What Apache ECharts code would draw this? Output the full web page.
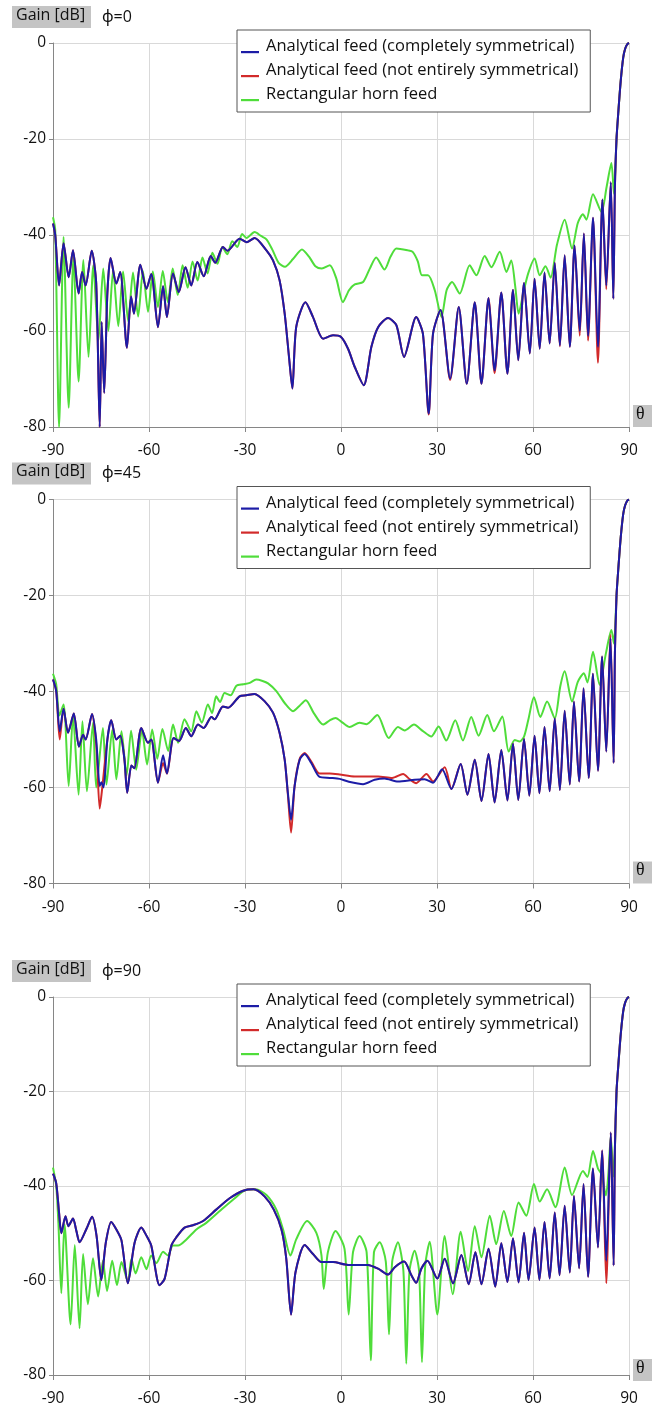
<!DOCTYPE html>
<html>
<head>
<meta charset="utf-8">
<script src="https://cdn.jsdelivr.net/npm/echarts@6/dist/echarts.min.js"></script>
<style>
html,body{margin:0;padding:0;background:#fff;}
#chart{width:657px;height:1407px;}
</style>
</head>
<body>
<div id="chart"></div>
<script>
// ---------- data ----------
const seriesNames = ['Analytical feed (completely symmetrical)', 'Analytical feed (not entirely symmetrical)', 'Rectangular horn feed'];
const phiLabels = ['\u03D5=0', '\u03D5=45', '\u03D5=90'];
const xTicks = [-90, -60, -30, 0, 30, 60, 90];
const yTicks = [-80, -60, -40, -20, 0];

// phi = 0
const p1Blue = [[-90,-37.6],[-89.3,-40],[-88.1,-50.5],[-86.7,-41.7],[-85.1,-48.8],[-83.75,-43.2],[-82,-52.2],[-80.9,-47.7],[-79.8,-50.5],[-77.9,-43.3],[-76.5,-50],[-75.4,-80],[-74.8,-58.1],[-74,-72.9],[-73,-52],[-72,-44.8],[-70.2,-50.1],[-69,-47.7],[-66.9,-63.5],[-65.6,-52.8],[-64.7,-56.4],[-62.7,-46.2],[-60.8,-51.2],[-59.3,-48.1],[-57.2,-59.2],[-55.6,-50.7],[-54.4,-57.1],[-52.5,-48],[-50.7,-51.9],[-48.6,-46.7],[-46.8,-50.5],[-44.9,-45.6],[-42.9,-48.6],[-40.7,-44.4],[-39.3,-45.8],[-36.9,-42.5],[-35.5,-43.3],[-31.7,-40.8],[-29.4,-41.5],[-27,-40.6],[-23.3,-43.2],[-21.25,-45.3],[-19.2,-49.4],[-17.6,-56.4],[-16.25,-65.4],[-15.2,-72],[-14,-59.2],[-11.1,-54],[-8.75,-57.1],[-5.6,-61.6],[-2.5,-60.9],[0,-61.25],[2.2,-63.7],[4.3,-67.5],[7.1,-71.3],[9.5,-63.3],[11.6,-59.2],[14.7,-57.3],[17.3,-58.8],[19.7,-65.4],[23.5,-57.1],[25.6,-60.6],[27.4,-77.2],[28.75,-60.6],[31.1,-55.6],[34.1,-69.9],[36.8,-55],[39.3,-71],[41.8,-54],[43.9,-71],[46.1,-53.1],[48,-68.2],[50.1,-52],[52,-68.9],[53.75,-51.4],[55.4,-66.1],[57.2,-50],[59,-64.7],[60.5,-49.1],[62.1,-63.7],[63.6,-47.8],[65.2,-62.6],[66.8,-45.8],[68.4,-63],[69.9,-44.2],[71.5,-63.3],[73,-42.2],[74.6,-60],[75.9,-39.7],[77.2,-61],[78.75,-36.4],[80.3,-63.3],[81.7,-32.6],[82.9,-50.5],[84.3,-29],[85.1,-53.3],[85.6,-30],[86.1,-20],[86.6,-15],[87.4,-8],[88.2,-3],[88.8,-1.2],[89.5,-0.2],[90,0]];
const p1Red = [[-90,-37.6],[-89.3,-40],[-88.1,-50.5],[-86.7,-41.7],[-85.1,-48.8],[-83.75,-43.2],[-82,-52.2],[-80.9,-47.7],[-79.8,-50.5],[-77.9,-43.3],[-76.5,-50],[-75.4,-80],[-74.8,-58.1],[-74,-72.9],[-73,-52],[-72,-44.8],[-70.2,-50.1],[-69,-47.7],[-66.9,-63.5],[-65.6,-52.8],[-64.7,-56.4],[-62.7,-46.2],[-60.8,-51.2],[-59.3,-48.1],[-57.2,-59.2],[-55.6,-50.7],[-54.4,-57.1],[-52.5,-48],[-50.7,-51.9],[-48.6,-46.7],[-46.8,-50.5],[-44.9,-45.6],[-42.9,-48.6],[-40.7,-44.4],[-39.3,-45.8],[-36.9,-42.5],[-35.5,-43.3],[-31.7,-40.8],[-29.4,-41.5],[-27,-40.6],[-23.3,-43.2],[-21.25,-45.3],[-19.2,-49.4],[-17.6,-56.4],[-16.25,-65.4],[-15.2,-72],[-14,-59.2],[-11.1,-54],[-8.75,-57.1],[-5.6,-61.6],[-2.5,-60.9],[0,-61.25],[2.2,-63.7],[4.3,-67.5],[7.1,-71.3],[9.5,-63.3],[11.6,-59.2],[14.7,-57.3],[17.3,-58.8],[19.7,-65.4],[23.5,-57.1],[25.6,-60.6],[27.4,-77.4],[28.75,-60.6],[31.1,-55.6],[34.1,-70.2],[36.8,-55],[39.3,-71],[41.8,-54],[43.9,-71],[46.1,-53.1],[48,-68.8],[50.1,-52],[52,-68.9],[53.75,-51.4],[55.4,-66.1],[57.2,-50],[59,-64.7],[60.5,-49.1],[62.1,-63.7],[63.6,-47.8],[65.2,-62.6],[66.8,-45.8],[68.4,-63.2],[69.9,-44.2],[71.5,-63.3],[73,-42.2],[74.6,-61],[75.9,-39.7],[77.2,-62],[78.75,-36.4],[80.3,-66.6],[81.7,-32.6],[82.9,-51.3],[84.3,-29],[85.1,-53.3],[85.6,-30],[86.1,-20],[86.6,-15],[87.4,-8],[88.2,-3],[88.8,-1.2],[89.5,-0.2],[90,0]];
const p1Green = [[-90,-36.3],[-89.3,-39],[-88.1,-80],[-86.7,-40.4],[-85.1,-76],[-83.6,-44.5],[-82,-70.5],[-80.5,-45.2],[-78.9,-65.4],[-77.4,-46.3],[-75.8,-62],[-74.3,-47],[-72.7,-60],[-71.2,-47.3],[-69.6,-59],[-68.1,-47.6],[-66.5,-58],[-65,-47.8],[-63.4,-57],[-61.9,-47.5],[-60.3,-56],[-58.8,-47.6],[-57.2,-55],[-55.7,-47.5],[-54.1,-54],[-52.6,-47],[-51,-52.5],[-49.5,-46.3],[-47.9,-51],[-46.4,-45.5],[-44.8,-49.5],[-43.3,-44.7],[-41.7,-48],[-40.2,-43.7],[-38.6,-46],[-37.1,-42.5],[-35.5,-44],[-34,-41.3],[-32.4,-42.5],[-30.9,-39.8],[-29.5,-40.6],[-27,-39.4],[-25,-40.2],[-23.3,-40.9],[-21.5,-43],[-19.5,-45.8],[-17.5,-46.6],[-15,-45],[-12.2,-43],[-10,-44.5],[-8,-46.5],[-6,-47],[-3.5,-46.3],[-1.5,-49],[0.6,-54],[2.5,-51.5],[4.3,-50.3],[6.9,-49.8],[9,-47],[11,-44.7],[13.6,-47.2],[15.5,-44.5],[17.3,-42.8],[20.9,-43.2],[22.4,-43.5],[24,-45.5],[25.3,-48.4],[27.2,-48.4],[29.3,-51.5],[31.4,-57.1],[33,-51.5],[34.7,-49.8],[37.1,-52.2],[40.2,-46.3],[42.3,-48.4],[44.9,-44.4],[47,-46.7],[49.6,-43.5],[51.7,-47.7],[53.2,-45.3],[54.5,-51],[55.5,-56.4],[57,-52],[58.5,-48],[60.5,-44.9],[62.1,-48.4],[63.9,-46.5],[65.5,-48.9],[67.5,-42],[69.9,-36.8],[72.2,-42.8],[74,-37.5],[75.6,-35.7],[76.7,-36.8],[78.75,-31.5],[81.4,-35.2],[83,-30],[84.5,-25],[85.3,-31.4],[86.1,-20],[86.6,-15],[87.4,-8],[88.2,-3],[88.8,-1.2],[89.5,-0.2],[90,0]];

// phi = 45
const p2Blue = [[-90,-37.5],[-89,-39.9],[-87.9,-48.3],[-86.7,-43.6],[-85.3,-48.6],[-83.5,-44.6],[-81.9,-51.5],[-80.6,-49],[-79.8,-50],[-77.8,-44.7],[-76.5,-50],[-75.4,-59.7],[-74.9,-58.9],[-74.2,-60],[-73,-50],[-71.8,-46],[-70.2,-50],[-69,-49.2],[-67.7,-54],[-66.8,-61.1],[-65.5,-55.4],[-64.6,-56],[-62.4,-47.6],[-60.3,-50.7],[-59.3,-50],[-57.2,-59],[-55.6,-53.3],[-54.4,-57.1],[-52.3,-49.7],[-50.6,-50.3],[-48.5,-47.6],[-46.8,-49.3],[-44.7,-46.9],[-42.9,-47.6],[-40.5,-45.3],[-39.5,-45.8],[-36.9,-43.1],[-35.3,-43.4],[-31.7,-41],[-29.6,-40.8],[-27,-40.5],[-23.9,-42],[-21.25,-44.4],[-19.2,-48.6],[-17.6,-54.2],[-16.6,-61.1],[-15.6,-66.7],[-14.5,-59.7],[-12.9,-54.2],[-11.35,-53],[-9.3,-54.9],[-6.7,-57.8],[-3.5,-58],[-0.4,-58.2],[2.2,-58.75],[6.9,-59.3],[10.5,-58.4],[13.6,-58.1],[17.8,-58.75],[23,-58.4],[26.1,-58.3],[28.75,-59],[31.6,-56.2],[34.5,-60.3],[37.4,-55.1],[39.5,-61.5],[41.8,-54.2],[43.9,-62.8],[46.1,-53],[48,-63.1],[50.1,-52.2],[52,-62.7],[53.75,-50.9],[55.4,-62.6],[57.2,-49.9],[58.85,-61.7],[60.5,-49.2],[62,-61.2],[63.6,-47.4],[65.2,-60.8],[66.8,-45.6],[68.4,-60.5],[69.9,-44],[71.5,-59.4],[72.8,-42.1],[74.4,-58.75],[75.8,-39.3],[77.4,-58],[78.75,-36.3],[80.3,-56.5],[81.6,-32.7],[82.9,-52.5],[84.2,-28.9],[85.2,-54.9],[85.6,-32],[86.1,-20],[86.6,-15],[87.4,-8],[88.2,-3],[88.8,-1.2],[89.5,-0.2],[90,0]];
const p2Red = [[-90,-37.5],[-89,-39.9],[-87.9,-50],[-86.7,-43.6],[-85.3,-48.6],[-83.5,-44.6],[-81.9,-51.5],[-80.6,-49],[-79.8,-50],[-77.8,-44.7],[-76.5,-51],[-75.4,-64.4],[-74.6,-60],[-73,-50],[-71.8,-46],[-70.2,-50],[-69,-49.2],[-67.7,-54],[-66.8,-61.1],[-65.5,-55.4],[-64.6,-56],[-62.4,-47.6],[-60.3,-50.7],[-59.3,-50],[-57.2,-59],[-55.6,-54.9],[-54.4,-57.1],[-52.3,-49.7],[-50.6,-50.3],[-48.5,-47.6],[-46.8,-49.3],[-44.7,-46.9],[-42.9,-47.6],[-40.5,-45.3],[-39.5,-45.8],[-36.9,-43.1],[-35.3,-43.4],[-31.7,-41],[-29.6,-40.8],[-27,-40.5],[-23.9,-42],[-21.25,-44.4],[-19.2,-48.6],[-17.6,-54.2],[-16.6,-61.5],[-15.6,-69.4],[-14.5,-59.7],[-12.9,-54],[-11.35,-52.8],[-9.3,-54.6],[-6.7,-57.1],[-3.5,-57.1],[-0.4,-57.3],[4.3,-57.7],[11.6,-57.7],[16,-58],[19.4,-57.2],[21.5,-58.3],[23.5,-59.1],[26.7,-57.2],[28.75,-58.75],[32.4,-55.8],[34.5,-60.3],[37.4,-55.1],[39.5,-61.5],[41.8,-54.2],[43.9,-62.8],[46.1,-53],[48,-63.1],[50.1,-52.2],[52,-62.7],[53.75,-50.9],[55.4,-62.6],[57.2,-49.9],[58.85,-61.7],[60.5,-49.2],[62,-61.2],[63.6,-47.4],[65.2,-60.8],[66.8,-45.6],[68.4,-60.5],[69.9,-44],[71.5,-59.4],[72.8,-42.1],[74.4,-58.75],[75.8,-39.3],[77.4,-58],[78.75,-36.3],[80.3,-56.5],[81.6,-32.7],[82.9,-52.5],[84.2,-28.2],[85.2,-54.9],[85.6,-32],[86.1,-20],[86.6,-15],[87.4,-8],[88.2,-3],[88.8,-1.2],[89.5,-0.2],[90,0]];
const p2Green = [[-90,-36.3],[-89,-38.5],[-88,-45],[-86.7,-42.7],[-85.1,-59.7],[-83.75,-45.1],[-82,-61.5],[-80.8,-46.2],[-79.4,-60.8],[-77.5,-46.5],[-76.5,-60],[-74.4,-47.6],[-73.3,-59.4],[-71.5,-48],[-70.2,-58.3],[-68.6,-48.3],[-67,-57.5],[-65.6,-48.2],[-64,-56.3],[-62.2,-48],[-60.6,-55.2],[-59,-47.9],[-57.4,-54],[-55.8,-47.8],[-54,-52.4],[-52.5,-46.9],[-50.9,-50.7],[-48.9,-45.8],[-46.8,-48.3],[-45.2,-44.1],[-43.5,-46.5],[-41.6,-42.7],[-40.3,-44.5],[-39,-41],[-37.8,-42.2],[-36.4,-40.3],[-34.5,-40.8],[-32.7,-38.8],[-30.6,-38.5],[-28.5,-38.2],[-26.5,-37.5],[-24.5,-37.8],[-22.8,-38.3],[-20.2,-39.9],[-17.5,-42.5],[-15,-44.1],[-13,-43],[-11,-41.8],[-8.5,-44.5],[-5.6,-46.9],[-3.5,-46],[-1.7,-45.5],[0.5,-46.5],[2.7,-47.4],[5.8,-46.5],[8,-46.8],[11.35,-44.9],[14.9,-49.7],[17.8,-47.4],[19.9,-48.1],[22.8,-46.9],[25.5,-48.2],[28.2,-49.4],[30.5,-47.3],[32.9,-50.2],[35.7,-46],[38.1,-50.2],[40.7,-45.3],[43,-49.2],[45.7,-44.9],[47.8,-48.3],[50.4,-45.2],[52.4,-52.5],[54.3,-50.1],[55.8,-50.4],[57.2,-49.4],[58.5,-46],[60.3,-41.2],[62.3,-45.3],[64.4,-42.1],[66.8,-45.6],[68.5,-39],[69.9,-35.8],[72.2,-42.1],[74,-38],[75.9,-36.2],[77,-38.1],[78.75,-31.7],[80.8,-38.6],[82.8,-32],[84.5,-27.2],[85.3,-30],[86.1,-20],[86.6,-15],[87.4,-8],[88.2,-3],[88.8,-1.2],[89.5,-0.2],[90,0]];

// phi = 90
const p3Blue = [[-90,-37.4],[-89,-39.4],[-88.1,-45.7],[-87.4,-50],[-86.1,-46.4],[-85.2,-48.5],[-83.75,-46.9],[-82.7,-49.5],[-81.7,-51.9],[-79.5,-49],[-77.8,-46.5],[-76.4,-50.5],[-74.9,-59.9],[-73.5,-52],[-71.8,-47.6],[-70.2,-49.2],[-68.6,-51.5],[-66.6,-60.6],[-64.5,-52],[-62.4,-48.8],[-60.8,-50.5],[-59.3,-52.6],[-56.7,-61],[-55.1,-59.6],[-53,-52.6],[-51.5,-50.9],[-48.9,-48.8],[-46.25,-48.3],[-43.1,-47.4],[-39,-45],[-34.8,-42.6],[-30.6,-41],[-27.3,-40.7],[-23.9,-42.2],[-21,-45],[-18.6,-49.2],[-17.1,-55.4],[-15.6,-67.2],[-14.2,-58.2],[-11.35,-52.5],[-8.75,-54.4],[-6.1,-56.1],[-2.5,-56.1],[2.2,-56.7],[8.4,-56.7],[11.6,-57.5],[14.7,-58.75],[16.8,-57.2],[19.7,-56],[22,-58.9],[23.5,-60.5],[25.1,-57.5],[27,-55.8],[30.1,-59.6],[32.4,-55.4],[35,-60.6],[37.6,-54.6],[39.9,-60.8],[42,-54],[43.9,-60.8],[46.1,-53.3],[48.2,-61.3],[50.1,-52.1],[52,-60.3],[53.75,-51.1],[55.5,-60.4],[57.2,-49.9],[58.6,-59.9],[60.5,-48.8],[62,-59.9],[63.6,-47.6],[65.2,-59.6],[66.8,-45.6],[68.3,-58.9],[69.9,-44.2],[71.5,-58.3],[72.8,-42.1],[74.4,-57.4],[75.8,-39.6],[77.2,-59.2],[78.75,-36.3],[80.3,-53],[81.6,-32.5],[82.9,-55.8],[84.3,-28.7],[85.2,-56.8],[85.6,-32],[86.1,-20],[86.6,-15],[87.4,-8],[88.2,-3],[88.8,-1.2],[89.5,-0.2],[90,0]];
const p3Red = [[-90,-37.4],[-89,-39.4],[-88.1,-45.7],[-87.4,-50],[-86.1,-46.4],[-85.2,-48.5],[-83.75,-46.9],[-82.7,-49.5],[-81.7,-51.9],[-79.5,-49],[-77.8,-46.5],[-76.4,-50.5],[-74.9,-59.9],[-73.5,-52],[-71.8,-47.6],[-70.2,-49.2],[-68.6,-51.5],[-66.6,-60.6],[-64.5,-52],[-62.4,-48.8],[-60.8,-50.5],[-59.3,-52.6],[-56.7,-61],[-55.1,-59.6],[-53,-52.6],[-51.5,-50.9],[-48.9,-48.8],[-46.25,-48.3],[-43.1,-47.4],[-39,-45],[-34.8,-42.6],[-30.6,-41],[-27.3,-40.7],[-23.9,-42.2],[-21,-45],[-18.6,-49.2],[-17.1,-55.4],[-15.6,-67.2],[-14.2,-58.2],[-11.35,-52.5],[-8.75,-54.4],[-6.1,-56.1],[-2.5,-56.1],[2.2,-56.7],[8.4,-56.7],[11.6,-57.5],[14.7,-58.75],[16.8,-57.2],[19.7,-56],[22,-58.9],[23.5,-60.5],[25.1,-57.5],[27,-55.8],[30.1,-59.6],[32.4,-55.4],[35,-60.6],[37.6,-54.6],[39.9,-60.8],[42,-54],[43.9,-60.8],[46.1,-53.3],[48.2,-61.3],[50.1,-52.1],[52,-60.3],[53.75,-51.1],[55.5,-60.4],[57.2,-49.9],[58.6,-59.9],[60.5,-48.8],[62,-59.9],[63.6,-47.6],[65.2,-59.6],[66.8,-45.6],[68.3,-58.9],[69.9,-44.2],[71.5,-58.3],[72.8,-42.1],[74.4,-57.4],[75.8,-39.6],[77.2,-59.2],[78.75,-36.3],[80.3,-53],[81.6,-32.5],[82.9,-60.6],[84.3,-28.7],[85.2,-56.8],[85.6,-32],[86.1,-20],[86.6,-15],[87.4,-8],[88.2,-3],[88.8,-1.2],[89.5,-0.2],[90,0]];
const p3Green = [[-90,-36.1],[-89,-40],[-88.3,-48],[-87.4,-62.7],[-86.4,-48.1],[-84.5,-69.3],[-83.2,-52.5],[-81.7,-70.1],[-80.6,-54.4],[-79.1,-65],[-77.5,-55.3],[-75.9,-63.4],[-74.4,-55.8],[-73.1,-62.2],[-71.5,-55.8],[-70,-61],[-68.6,-56.1],[-66.6,-60.3],[-65.5,-55.4],[-64.2,-58.5],[-62.4,-55.1],[-60.8,-57.6],[-59.3,-54.7],[-57.7,-56.3],[-55.6,-53.9],[-54.1,-54.7],[-52.5,-52.6],[-50.9,-52.6],[-48.3,-51.3],[-45.2,-49.2],[-42.1,-47.8],[-37.9,-45.3],[-33.75,-42.9],[-29.6,-40.8],[-26.7,-40.7],[-23.3,-41.9],[-20.2,-45],[-18.1,-49.2],[-15.8,-54.7],[-14,-51.3],[-10.6,-47.4],[-7.7,-49.9],[-6.1,-54.7],[-5.4,-61.8],[-4.1,-54],[-1.7,-49.5],[1.1,-53.3],[2.4,-67.2],[3.75,-54],[5.8,-50.6],[8,-54],[9.3,-76.9],[10.3,-54],[12.1,-51.9],[14,-56],[15,-71.4],[16,-56],[17.8,-51.9],[19.5,-58],[20.4,-77.6],[21.4,-58],[23,-53.7],[24.4,-58],[25.3,-77.3],[26.3,-57],[27.7,-51.8],[30.1,-67.2],[32.4,-50.6],[34.9,-62.9],[37.4,-49.7],[39.7,-58],[41.8,-48.5],[43.9,-55.1],[46.5,-46.3],[48.5,-52.3],[50.9,-45.3],[53.2,-50.6],[55.5,-43.5],[57.9,-46.3],[60.3,-39.6],[62.1,-43.3],[64.4,-40.7],[67,-44.5],[69.9,-36.1],[72.2,-41.9],[75.6,-36.8],[77,-38.1],[78.75,-32.6],[80.3,-36.3],[81.4,-37.5],[82.8,-42],[83.6,-37],[84.3,-29.5],[85.2,-38],[85.6,-32],[86.1,-20],[86.6,-15],[87.4,-8],[88.2,-3],[88.8,-1.2],[89.5,-0.2],[90,0]];

const panels = [
  {blue: p1Blue, red: p1Red, green: p1Green},
  {blue: p2Blue, red: p2Red, green: p2Green},
  {blue: p3Blue, red: p3Red, green: p3Green}
];

// ---------- layout ----------
const FONT = '"Open Sans", "Noto Sans", sans-serif';
const gridTops = [43, 499.5, 997];
const GRID_LEFT = 53, GRID_W = 576, GRID_H = 384;
const colors = {blue: '#1c1ca6', red: '#d22a2a', green: '#4fdd3a'};

const grids = [], xAxes = [], yAxes = [], series = [], legends = [], graphics = [];
panels.forEach((p, i) => {
  const top = gridTops[i];
  grids.push({left: GRID_LEFT, top: top, width: GRID_W, height: GRID_H, containLabel: false});
  xAxes.push({
    type: 'value', gridIndex: i, min: xTicks[0], max: xTicks[xTicks.length - 1], interval: 30,
    axisLine: {show: true, onZero: false, lineStyle: {color: '#868686', width: 1}},
    axisTick: {show: true, length: 5, lineStyle: {color: '#868686'}},
    axisLabel: {fontFamily: FONT, fontSize: 15.5, color: '#111', margin: 16},
    splitLine: {show: true, lineStyle: {color: '#d9d9d9', width: 1}}
  });
  yAxes.push({
    type: 'value', gridIndex: i, min: yTicks[0], max: yTicks[yTicks.length - 1], interval: 20,
    axisLine: {show: true, onZero: false, lineStyle: {color: '#868686', width: 1}},
    axisTick: {show: true, length: 4, lineStyle: {color: '#868686'}},
    axisLabel: {fontFamily: FONT, fontSize: 15.5, color: '#111', margin: 7},
    splitLine: {show: true, lineStyle: {color: '#d9d9d9', width: 1}}
  });
  const mk = (name, data, color, z) => ({
    name: name, type: 'line', xAxisIndex: i, yAxisIndex: i, data: data,
    showSymbol: false, symbol: 'none', smooth: 0.25, z: z, animation: false,
    lineStyle: {color: color, width: 2}, itemStyle: {color: color}
  });
  series.push(mk(seriesNames[2], p.green, colors.green, 2));
  series.push(mk(seriesNames[1], p.red, colors.red, 3));
  series.push(mk(seriesNames[0], p.blue, colors.blue, 4));

  legends.push({
    data: seriesNames, orient: 'vertical', left: 237, top: top - 13,
    backgroundColor: '#fff', borderColor: '#555', borderWidth: 1,
    padding: [8, 12, 9, 4], itemGap: 7, itemWidth: 18, itemHeight: 14,
    icon: 'path://M0,0M0,11.2L18,11.2L18,13.4L0,13.4Z',
    selectedMode: false,
    textStyle: {fontFamily: FONT, fontSize: 16.5, color: '#111', lineHeight: 14, padding: [0, 0, 0, 2]}
  });

  const off = top - 43;
  graphics.push({type: 'rect', left: 12, top: 6 + off, shape: {width: 79, height: 22}, style: {fill: '#c4c4c4'}});
  graphics.push({type: 'text', left: 16, top: 7 + off, style: {text: 'Gain [dB]', font: '16px ' + FONT, fill: '#111'}});
  graphics.push({type: 'text', left: 102, top: 9 + off, style: {text: phiLabels[i], font: '16px ' + FONT, fill: '#111'}});
  graphics.push({type: 'rect', left: 633, top: top + GRID_H - 22, shape: {width: 19, height: 22}, style: {fill: '#c4c4c4'}});
  graphics.push({type: 'text', left: 636, top: top + GRID_H - 22, style: {text: '\u03B8', font: '18px "Liberation Serif", "DejaVu Serif", serif', fill: '#111'}});
});

const chart = echarts.init(document.getElementById('chart'), null, {renderer: 'canvas'});
chart.setOption({
  animation: false,
  backgroundColor: '#fff',
  grid: grids, xAxis: xAxes, yAxis: yAxes, series: series, legend: legends, graphic: graphics
});
</script>
</body>
</html>
